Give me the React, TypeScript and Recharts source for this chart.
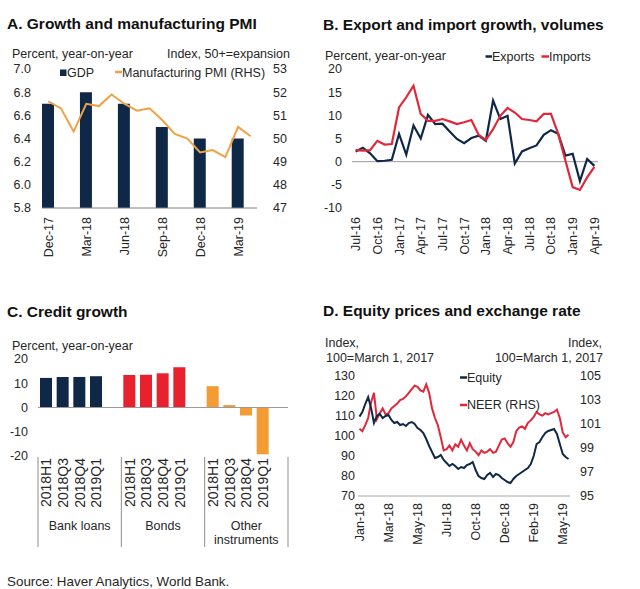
import { ComposedChart, Bar, Line, XAxis, YAxis, ReferenceLine, Cell } from 'recharts';

const FONT = "'Liberation Sans', Arial, Helvetica, sans-serif";
const INK = '#262626';
const NAVY = '#102848';
const RED = '#E0283A';
const ORANGE = '#EFA245';
const BAR_RED = '#E8212E';
const BAR_ORANGE = '#F39C34';

// A. Growth and manufacturing PMI
const A_MONTHS = ['Dec-17', 'Jan-18', 'Feb-18', 'Mar-18', 'Apr-18', 'May-18', 'Jun-18', 'Jul-18', 'Aug-18',
  'Sep-18', 'Oct-18', 'Nov-18', 'Dec-18', 'Jan-19', 'Feb-19', 'Mar-19', 'Apr-19'];
const A_GDP = [6.7, null, null, 6.8, null, null, 6.7, null, null, 6.5, null, null, 6.4, null, null, 6.4, null];
const A_PMI = [51.6, 51.3, 50.3, 51.5, 51.4, 51.9, 51.5, 51.2, 51.3, 50.8, 50.2, 50.0, 49.4, 49.5, 49.2, 50.5, 50.1];
const A_LEFT_TICKS = [5.8, 6.0, 6.2, 6.4, 6.6, 6.8, 7.0];
const A_RIGHT_TICKS = [47, 48, 49, 50, 51, 52, 53];

// B. Export and import growth, volumes
const B_MONTHS = ['Jul-16', 'Aug-16', 'Sep-16', 'Oct-16', 'Nov-16', 'Dec-16', 'Jan-17', 'Feb-17', 'Mar-17',
  'Apr-17', 'May-17', 'Jun-17', 'Jul-17', 'Aug-17', 'Sep-17', 'Oct-17', 'Nov-17', 'Dec-17', 'Jan-18',
  'Feb-18', 'Mar-18', 'Apr-18', 'May-18', 'Jun-18', 'Jul-18', 'Aug-18', 'Sep-18', 'Oct-18', 'Nov-18',
  'Dec-18', 'Jan-19', 'Feb-19', 'Mar-19', 'Apr-19'];
const B_EXPORTS = [2.2, 3.0, 1.8, 0.1, 0.2, 0.4, 6.0, 1.5, 7.8, 5.0, 10.1, 8.1, 8.2, 6.5, 4.9, 4.0, 5.1, 5.6,
  4.5, 13.2, 9.2, 9.9, -0.4, 2.2, 2.9, 3.5, 5.8, 6.8, 6.0, 1.3, 1.7, -4.2, 0.6, -0.9];
const B_IMPORTS = [2.5, 2.4, 2.5, 4.5, 3.7, 3.8, 11.7, 13.9, 16.4, 10.3, 8.8, 8.8, 9.2, 8.7, 8.1, 8.5, 9.0, 5.8,
  4.7, 7.0, 9.9, 11.6, 10.6, 9.2, 9.0, 8.7, 10.3, 10.3, 6.0, 0.2, -5.5, -6.1, -3.4, -1.1];
const B_TICKS = [-10, -5, 0, 5, 10, 15, 20];

// C. Credit growth
const C_PERIODS = ['2018H1', '2018Q3', '2018Q4', '2019Q1'];
const C_GROUP_LABELS = [['Bank loans'], ['Bonds'], ['Other', 'instruments']];
const C_BANK = [12.2, 12.6, 12.6, 12.9];
const C_BONDS = [13.4, 13.5, 14.1, 16.6];
const C_OTHER = [8.8, 1.0, -3.3, -19.3];
const C_COLORS = [NAVY, BAR_RED, BAR_ORANGE];
const C_TICKS = [-20, -10, 0, 10, 20];

// D. Equity prices and exchange rate (weekly readings)
const D_TICK_LABELS = ['Jan-18', 'Mar-18', 'May-18', 'Jul-18', 'Oct-18', 'Dec-18', 'Feb-19', 'May-19'];
const D_EQUITY = [109.7, 112, 116, 119.5, 114, 106.5, 110, 111, 109, 110, 110.5, 108, 106.5, 107, 105.5, 106,
  105, 106.5, 107, 106, 104, 103, 101.5, 98.5, 95, 92, 89, 89.5, 90.5, 88, 86.5, 85, 86, 85, 83.5, 84.5, 84,
  85.5, 86, 87, 83, 80, 79, 78.5, 80.5, 81.5, 79.5, 81, 80.5, 79, 78, 77, 76.5, 78.5, 80, 81, 82, 83, 84, 86,
  90, 96, 97, 99.5, 101.5, 102.5, 103, 103.5, 101, 96, 91, 89.5, 88.5];
const D_NEER = [100.6, 100.4, 100.9, 101.5, 102.8, 103.6, 101.4, 101.9, 102.3, 101.8, 101.9, 102.3, 102.5,
  102.7, 103, 103.1, 103.3, 103.6, 103.9, 104.2, 104.1, 103.8, 103.7, 104.3, 103.6, 102.3, 101.5, 100.9, 99.9,
  98.8, 98.9, 99.2, 98.8, 99.3, 99.1, 99.7, 99.2, 98.8, 99.4, 98.9, 98.7, 98.4, 98.8, 98.6, 98.7, 98.9, 98.6,
  98.7, 99.2, 99.7, 99.8, 99.4, 99.1, 99.5, 100.4, 100.7, 100.8, 100.6, 101.1, 101.3, 101.6, 102.0, 101.8,
  101.7, 101.9, 101.8, 101.9, 102.0, 102.2, 101.5, 100.3, 99.9, 100.1];
const D_LEFT_TICKS = [70, 80, 90, 100, 110, 120, 130];
const D_RIGHT_TICKS = [95, 97, 99, 101, 103, 105];

const A_DATA = A_MONTHS.map((m, i) => ({ month: m, gdp: A_GDP[i], pmi: A_PMI[i] }));
const B_DATA = B_MONTHS.map((m, i) => ({ month: m, exports: B_EXPORTS[i], imports: B_IMPORTS[i] }));
const C_VALUES = [C_BANK, C_BONDS, C_OTHER];
const C_DATA: { key: string; period: string; value: number | null; group: number; pos: number }[] = [];
C_VALUES.forEach((vals, g) => {
  C_PERIODS.forEach((p, k) => C_DATA.push({ key: `${g}-${p}`, period: p, value: vals[k], group: g, pos: k }));
  C_DATA.push({ key: `${g}-gap`, period: '', value: null, group: g, pos: 4 });
});
const C_BAND = 250 / C_DATA.length;
const D_DATA = D_EQUITY.map((v, i) => ({ i, equity: v, neer: D_NEER[i] }));

const tickStyle = { fontSize: 12.5, fill: INK, fontFamily: FONT };

function VertTick(props: any) {
  const { x = 0, y = 0, payload, dy = 9, size = 12.5, format } = props;
  const label = format ? format(payload.value) : payload.value;
  const bx = x + size * 0.36;
  const by = y + dy;
  return (
    <text x={bx} y={by} transform={`rotate(-90 ${bx} ${by})`} textAnchor="end" fontSize={size} fill={INK} fontFamily={FONT}>
      {label}
    </text>
  );
}

function CreditTick(props: any) {
  const { x = 0, y = 0, payload } = props;
  const row = C_DATA[payload.index];
  if (!row) return null;
  const bx = x + 5;
  const by = y + 2;
  const isLast = payload.index === C_DATA.length - 1;
  return (
    <g>
      {row.period && (
        <text x={bx} y={by} transform={`rotate(-90 ${bx} ${by})`} textAnchor="end" fontSize={14} fill={INK} fontFamily={FONT}>
          {row.period}
        </text>
      )}
      {row.pos === 0 && <line x1={x - C_BAND / 2} x2={x - C_BAND / 2} y1={y + 1} y2={y + 91} stroke="#8c8c8c" />}
      {isLast && <line x1={x + C_BAND / 2} x2={x + C_BAND / 2} y1={y + 1} y2={y + 91} stroke="#8c8c8c" />}
      {row.pos === 2 &&
        C_GROUP_LABELS[row.group].map((t, k) => (
          <text key={t} x={x} y={y + 74 + k * 13.5} textAnchor="middle" fontSize={12.5} fill={INK} fontFamily={FONT}>
            {t}
          </text>
        ))}
    </g>
  );
}

export default function App() {
  return (
    <div style={{ position: 'absolute', left: 0, top: 0, width: 640, height: 589, background: '#fff', fontFamily: FONT, overflow: 'hidden' }}>
      {/* A */}
      <div style={{ position: 'absolute', left: 0, top: 0 }}>
        <ComposedChart width={300} height={262} data={A_DATA} margin={{ top: 69, right: 0, bottom: 0, left: 0 }} barCategoryGap={0}>
          <XAxis dataKey="month" interval={2} tickSize={0} tickMargin={0} tickLine={false} axisLine={{ stroke: '#7f7f7f' }} height={54} tick={<VertTick dy={9} />} />
          <YAxis yAxisId="l" width={42} domain={[5.8, 7.0]} ticks={A_LEFT_TICKS} interval={0} tickFormatter={(v: number) => v.toFixed(1)} tickSize={0} tickMargin={11} tickLine={false} axisLine={false} tick={tickStyle} />
          <YAxis yAxisId="r" orientation="right" width={43} domain={[47, 53]} ticks={A_RIGHT_TICKS} interval={0} tickSize={0} tickMargin={16} tickLine={false} axisLine={false} tick={tickStyle} />
          <Bar yAxisId="l" dataKey="gdp" fill={NAVY} barSize={12} isAnimationActive={false} />
          <Line yAxisId="r" dataKey="pmi" type="linear" stroke={ORANGE} strokeWidth={2} dot={false} isAnimationActive={false} />
        </ComposedChart>
      </div>

      {/* B */}
      <div style={{ position: 'absolute', left: 320, top: 0 }}>
        <ComposedChart width={290} height={262} data={B_DATA} margin={{ top: 69, right: 12, bottom: 0, left: 0 }}>
          <XAxis dataKey="month" scale="band" interval={2} tickSize={0} tickMargin={0} tickLine={false} axisLine={false} height={54} tick={<VertTick dy={9} />} />
          <YAxis width={32} domain={[-10, 20]} ticks={B_TICKS} interval={0} tickSize={0} tickMargin={10} tickLine={false} axisLine={false} tick={tickStyle} />
          <ReferenceLine y={0} stroke="#9a9a9a" />
          <Line dataKey="exports" type="linear" stroke={NAVY} strokeWidth={2.2} dot={false} isAnimationActive={false} />
          <Line dataKey="imports" type="linear" stroke={RED} strokeWidth={2.2} dot={false} isAnimationActive={false} />
        </ComposedChart>
      </div>

      {/* C */}
      <div style={{ position: 'absolute', left: 0, top: 290 }}>
        <ComposedChart width={300} height={262} data={C_DATA} margin={{ top: 69, right: 12, bottom: 0, left: 0 }}>
          <XAxis dataKey="key" interval={0} tickSize={0} tickMargin={0} tickLine={false} axisLine={false} height={96} tick={<CreditTick />} />
          <YAxis width={38} domain={[-20, 20]} ticks={C_TICKS} interval={0} tickSize={0} tickMargin={10} tickLine={false} axisLine={false} tick={tickStyle} />
          <ReferenceLine y={0} stroke="#9a9a9a" />
          <Bar dataKey="value" barSize={12} isAnimationActive={false}>
            {C_DATA.map((d) => (
              <Cell key={d.key} fill={C_COLORS[d.group]} />
            ))}
          </Bar>
        </ComposedChart>
      </div>

      {/* D */}
      <div style={{ position: 'absolute', left: 320, top: 290 }}>
        <ComposedChart width={290} height={266} data={D_DATA} margin={{ top: 86, right: 0, bottom: 0, left: 0 }}>
          <XAxis dataKey="i" scale="band" interval={9} tickSize={0} tickMargin={0} tickLine={false} axisLine={{ stroke: '#a6a6a6' }} height={60}
            tick={<VertTick dy={7} format={(v: number) => D_TICK_LABELS[Math.round(v / 10)]} />} />
          <YAxis yAxisId="l" width={38} domain={[70, 130]} ticks={D_LEFT_TICKS} interval={0} tickSize={0} tickMargin={3} tickLine={false} axisLine={false} tick={tickStyle} />
          <YAxis yAxisId="r" orientation="right" width={40} domain={[95, 105]} ticks={D_RIGHT_TICKS} interval={0} tickSize={0} tickMargin={10} tickLine={false} axisLine={false} tick={tickStyle} />
          <Line yAxisId="r" dataKey="neer" type="linear" stroke={RED} strokeWidth={2} dot={false} isAnimationActive={false} />
          <Line yAxisId="l" dataKey="equity" type="linear" stroke={NAVY} strokeWidth={2} dot={false} isAnimationActive={false} />
        </ComposedChart>
      </div>

      {/* titles, axis captions, legends, source */}
      <svg width={640} height={589} style={{ position: 'absolute', left: 0, top: 0, pointerEvents: 'none' }} fontFamily={FONT} fill="#111">
        <text x={7} y={29.3} fontSize={15.5} fontWeight="bold">A. Growth and manufacturing PMI</text>
        <text x={12} y={58} fontSize={12.5} fill={INK}>Percent, year-on-year</text>
        <text x={290} y={58} fontSize={12.5} fill={INK} textAnchor="end">Index, 50+=expansion</text>
        <rect x={60} y={69.5} width={6.5} height={6.5} fill={NAVY} />
        <text x={67} y={76.5} fontSize={12.5} fill={INK}>GDP</text>
        <line x1={115} x2={122} y1={72} y2={72} stroke={ORANGE} strokeWidth={2.5} />
        <text x={122} y={76.5} fontSize={12.5} fill={INK}>Manufacturing PMI (RHS)</text>

        <text x={323} y={29.5} fontSize={15.5} fontWeight="bold">B. Export and import growth, volumes</text>
        <text x={325} y={60} fontSize={12.5} fill={INK}>Percent, year-on-year</text>
        <line x1={485.5} x2={492} y1={56.5} y2={56.5} stroke={NAVY} strokeWidth={2.5} />
        <text x={492} y={60.5} fontSize={12.5} fill={INK}>Exports</text>
        <line x1={541.5} x2={549} y1={56.5} y2={56.5} stroke={RED} strokeWidth={2.5} />
        <text x={549} y={60.5} fontSize={12.5} fill={INK}>Imports</text>

        <text x={7} y={316.7} fontSize={15.5} fontWeight="bold">C. Credit growth</text>
        <text x={12} y={349.6} fontSize={12.5} fill={INK}>Percent, year-on-year</text>

        <text x={323} y={315.5} fontSize={15.5} fontWeight="bold">D. Equity prices and exchange rate</text>
        <text x={325} y={347} fontSize={12.5} fill={INK}>Index,</text>
        <text x={326} y={362} fontSize={12.5} fill={INK}>100=March 1, 2017</text>
        <text x={602} y={347} fontSize={12.5} fill={INK} textAnchor="end">Index,</text>
        <text x={603} y={362} fontSize={12.5} fill={INK} textAnchor="end">100=March 1, 2017</text>
        <line x1={460} x2={467} y1={377.5} y2={377.5} stroke={NAVY} strokeWidth={2.5} />
        <text x={467} y={381.5} fontSize={12.5} fill={INK}>Equity</text>
        <line x1={460} x2={467} y1={405} y2={405} stroke={RED} strokeWidth={2.5} />
        <text x={467} y={409} fontSize={12.5} fill={INK}>NEER (RHS)</text>

        <text x={7} y={585.6} fontSize={13.4} fill={INK}>Source: Haver Analytics, World Bank.</text>
      </svg>
    </div>
  );
}
